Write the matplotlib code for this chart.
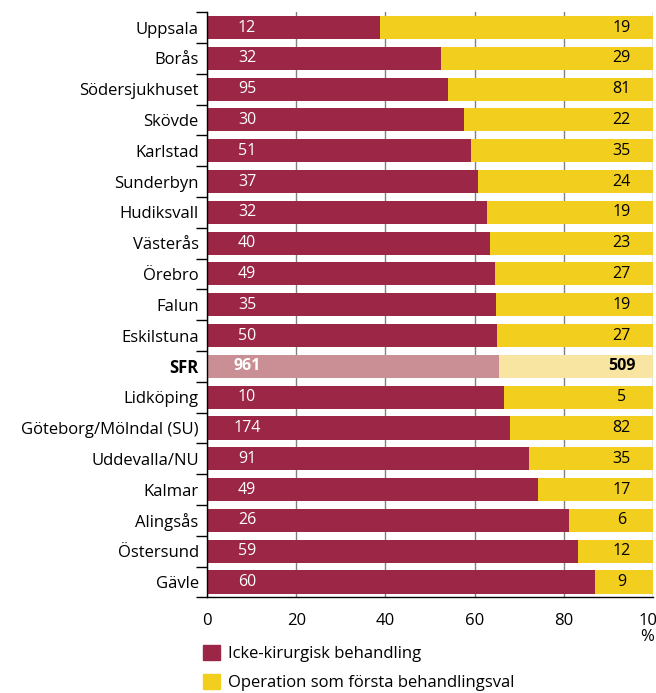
import matplotlib
matplotlib.use("Agg")
import matplotlib.pyplot as plt
import numpy as np
from matplotlib.patches import Patch

plt.rcParams['font.family'] = ['Open Sans', 'DejaVu Sans']

categories = ["Uppsala", "Borås", "Södersjukhuset", "Skövde", "Karlstad", "Sunderbyn",
              "Hudiksvall", "Västerås", "Örebro", "Falun", "Eskilstuna", "SFR",
              "Lidköping", "Göteborg/Mölndal (SU)", "Uddevalla/NU", "Kalmar",
              "Alingsås", "Östersund", "Gävle"]
non_surgical = [12, 32, 95, 30, 51, 37, 32, 40, 49, 35, 50, 961, 10, 174, 91, 49, 26, 59, 60]
surgery_first = [19, 29, 81, 22, 35, 24, 19, 23, 27, 19, 27, 509, 5, 82, 35, 17, 6, 12, 9]
highlight = "SFR"

legend_labels = ["Icke-kirurgisk behandling", "Operation som första behandlingsval"]
x_ticks = [0, 20, 40, 60, 80, 100]

MAROON = "#9c2645"
YELLOW = "#f2ce1f"
MAROON_LIGHT = "#c98f95"
YELLOW_LIGHT = "#f9e5a2"

ns = np.array(non_surgical, dtype=float)
sf = np.array(surgery_first, dtype=float)
tot = ns + sf
p_ns = ns / tot * 100
p_sf = sf / tot * 100

fig = plt.figure(figsize=(6.56, 6.93), dpi=100)
ax = fig.add_axes([207/656, 1 - 597.4/693, 446/656, 585.3/693])

y = np.arange(len(categories))
c1 = [MAROON_LIGHT if c == highlight else MAROON for c in categories]
c2 = [YELLOW_LIGHT if c == highlight else YELLOW for c in categories]
ax.barh(y, p_ns, height=0.75, color=c1, zorder=2)
ax.barh(y, p_sf, left=p_ns, height=0.75, color=c2, zorder=2)

for i, c in enumerate(categories):
    bold = 'bold' if c == highlight else 'normal'
    ax.text(9, i, f"{non_surgical[i]}", color='white', ha='center', va='center',
            fontsize=11.5, fontweight=bold, zorder=3)
    ax.text(93, i, f"{surgery_first[i]}", color='black', ha='center', va='center',
            fontsize=11.5, fontweight=bold, zorder=3)

ax.set_xlim(0, 100)
ax.set_ylim(len(categories) - 0.5, -0.5)
ax.set_xticks(x_ticks)
ax.set_xticklabels([str(t) for t in x_ticks], fontsize=12)
ax.tick_params(axis='x', length=0, pad=11)
ax.grid(axis='x', color='#808080', linewidth=1, zorder=0)

ax.set_yticks(y)
ax.set_yticklabels(categories, fontsize=12)
for lab in ax.get_yticklabels():
    if lab.get_text() == highlight:
        lab.set_fontweight('bold')
ax.set_yticks(np.arange(len(categories) + 1) - 0.5, minor=True)
ax.tick_params(axis='y', which='major', length=0, pad=6)
ax.tick_params(axis='y', which='minor', length=8, width=1, color='black')

for s in ['top', 'right']:
    ax.spines[s].set_visible(False)
for s in ['left', 'bottom']:
    ax.spines[s].set_color('black')
    ax.spines[s].set_linewidth(1)

fig.text(647/656, 1 - 637/693, "%", ha='center', va='center', fontsize=12)

handles = [Patch(color=MAROON), Patch(color=YELLOW)]
ax.legend(handles, legend_labels, loc='upper left', bbox_to_anchor=(203/656, 1 - 645/693),
          bbox_transform=fig.transFigure, frameon=False, fontsize=12,
          handlelength=1.0, handleheight=1.0, handletextpad=0.5, labelspacing=0.72,
          borderpad=0, borderaxespad=0)

fig.savefig("out.png", dpi=100)
